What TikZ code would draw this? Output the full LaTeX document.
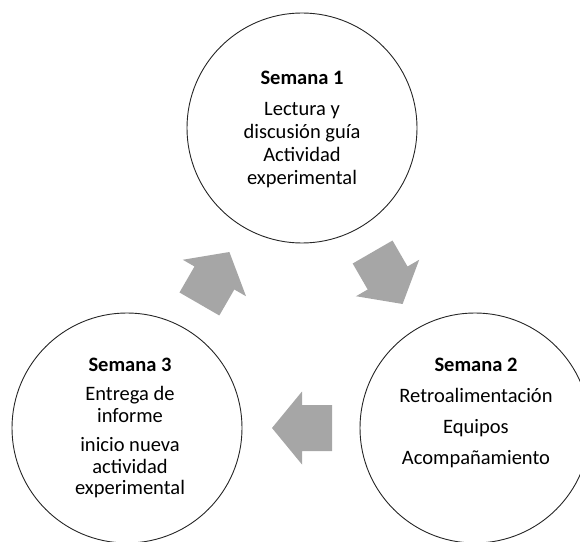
\documentclass[tikz,border=0pt]{standalone}
\usepackage{fontspec}
\setmainfont{Carlito}
\definecolor{arrowgray}{HTML}{A6A6A6}
\begin{document}
\begin{tikzpicture}[x=1pt,y=1pt,
  week/.style={circle, draw=black!85, line width=0.9pt, minimum size=230pt, inner sep=0pt},
  weektext/.style={anchor=north, align=center, inner sep=0pt, font=\fontsize{20.5}{23}\selectfont},
  cyclearrow/.style={fill=arrowgray, draw=none}]
\useasboundingbox (0,0) rectangle (580,541);

% the three weeks
\node[week] (w1) at (302,413) {};
\node[week] (w2) at (475,113) {};
\node[week] (w3) at (127,113) {};

\node[weektext] (t1) at (302,470.5) {\textbf{Semana 1}\\[8pt]Lectura y\\discusión guía\\Actividad\\experimental};
\node[weektext] (t2) at (476,183.5) {\textbf{Semana 2}\\[8pt]Retroalimentación\\[8pt]Equipos\\[8pt]Acompañamiento};
\node[weektext, font=\fontsize{20.5}{21.5}\selectfont] (t3) at (130,183.5) {\textbf{Semana 3}\\[8pt]Entrega de\\informe\\[8pt]inicio nueva\\actividad\\experimental};

% block arrows of the cycle
\fill[cyclearrow, shift={(214.4,263)}, rotate=60]
  (30,0) -- (0,36.5) -- (0,23) -- (-30,23) -- (-30,-23) -- (0,-23) -- (0,-36.5) -- cycle;
\fill[cyclearrow, shift={(387.6,263)}, rotate=-60]
  (30,0) -- (0,36.5) -- (0,23) -- (-30,23) -- (-30,-23) -- (0,-23) -- (0,-36.5) -- cycle;
\fill[cyclearrow, shift={(302,113)}, rotate=180]
  (30,0) -- (0,36.5) -- (0,23) -- (-30,23) -- (-30,-23) -- (0,-23) -- (0,-36.5) -- cycle;
\end{tikzpicture}
\end{document}
